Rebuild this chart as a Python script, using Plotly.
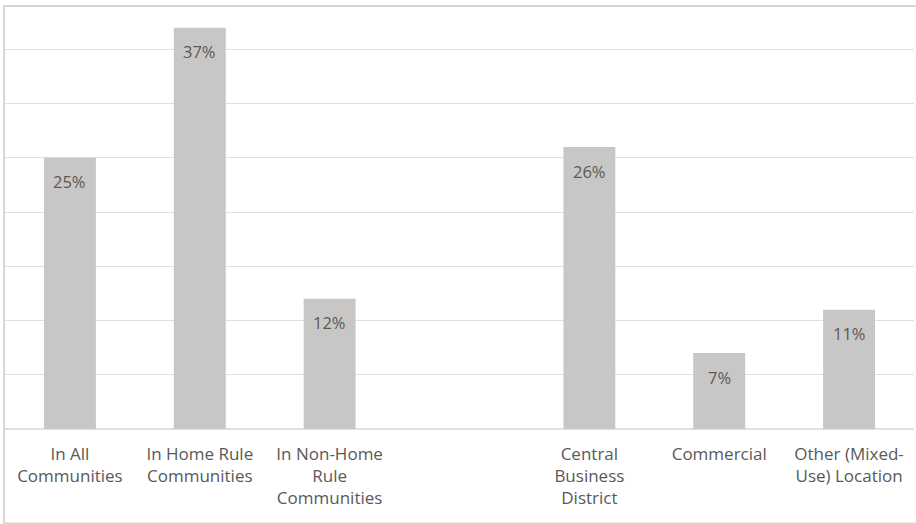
import plotly.graph_objects as go

categories = ["In All<br>Communities", "In Home Rule<br>Communities", "In Non-Home<br>Rule<br>Communities",
              "", "Central<br>Business<br>District", "Commercial", "Other (Mixed-<br>Use) Location"]
slots = [0, 1, 2, 3, 4, 5, 6]
bar_slots = [0, 1, 2, 4, 5, 6]
values = [25, 37, 12, 26, 7, 11]
labels = [f"{v}%" for v in values]

TEXT = "#595959"
BAR = "#c9c7c6"
GRID = "#e3dfdc"

fig = go.Figure()
fig.add_trace(go.Bar(x=bar_slots, y=values, width=0.4, marker=dict(color=BAR, line=dict(width=0)),
                     hoverinfo="skip"))

for xs, v, lab in zip(bar_slots, values, labels):
    fig.add_annotation(x=xs, y=v, text=lab, showarrow=False, yshift=-24,
                       font=dict(family="Open Sans", size=16.5, color=TEXT))

fig.add_shape(type="rect", xref="paper", yref="paper", x0=-0.001, x1=1.012, y0=-0.2235, y1=1.0,
              line=dict(color="#d6d6d6", width=2), fillcolor="rgba(0,0,0,0)")

fig.update_layout(
    width=916, height=524,
    margin=dict(l=5, r=2, t=6, b=95, autoexpand=False),
    paper_bgcolor="white", plot_bgcolor="white",
    showlegend=False,
    font=dict(family="Open Sans", size=17, color=TEXT),
    xaxis=dict(range=[-0.5, 6.5], tickmode="array", tickvals=slots, ticktext=categories,
               showgrid=False, zeroline=False, showline=False, ticks="", automargin=False,
               ticklabelstandoff=13, tickfont=dict(family="Open Sans", size=17, color=TEXT)),
    yaxis=dict(range=[0, 39], dtick=5, showticklabels=False, showgrid=True, gridcolor=GRID, gridwidth=1,
               automargin=False,
               zeroline=True, zerolinecolor=GRID, zerolinewidth=2, showline=False, ticks=""),
)

fig.write_html("out.html", config={"displayModeBar": False},
               post_script="document.body.style.margin='0';document.body.style.overflow='hidden';")
